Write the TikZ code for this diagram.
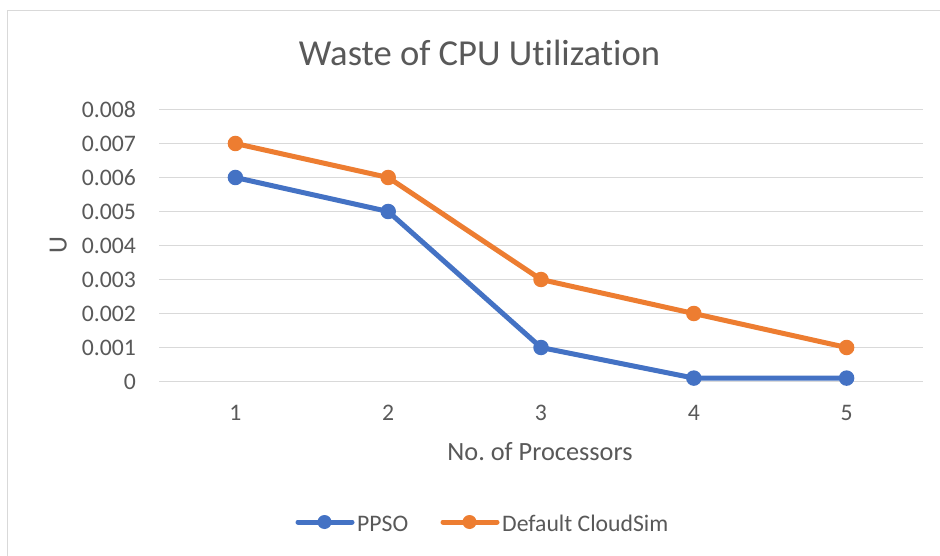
\documentclass[tikz,border=0pt]{standalone}
\usepackage{fontspec}
\setmainfont{Carlito}[RawFeature={-liga;-clig;-dlig}]
\frenchspacing
\definecolor{txt}{HTML}{595959}
\definecolor{grid}{HTML}{D9D9D9}
\definecolor{sblue}{HTML}{4472C4}
\definecolor{sorange}{HTML}{ED7D31}
\tikzset{
  gridline/.style={draw=grid, line width=1.6pt},
  frameline/.style={draw=grid, line width=1.6pt},
  ticklbl/.style={text=txt, inner sep=0pt, font=\fontsize{23.7}{28}\selectfont},
  series/.style={line width=5pt, line join=round, line cap=round},
  dotmark/.style={circle, inner sep=0pt, minimum size=15.5pt},
}
\begin{document}
\begin{tikzpicture}[x=1pt,y=-1pt]
\useasboundingbox (0,0) rectangle (940,556);
\fill[white] (0,0) rectangle (940,556);
% chart frame
\draw[frameline] (7.5,560) -- (7.5,10.5) -- (945,10.5);
% title
\node[text=txt, inner sep=0pt, anchor=base, font=\fontsize{36.6}{40}\selectfont] (title) at (479.5,66) {Waste of CPU Ut\kern0pt ilizat\kern0pt ion};
% gridlines and y labels
\foreach \v/\lbl in {0/0,1/0.001,2/0.002,3/0.003,4/0.004,5/0.005,6/0.006,7/0.007,8/0.008}{
  \pgfmathsetmacro{\yy}{381.5-34*\v}
  \coordinate (gl\v) at (159,\yy);
  \coordinate (gr\v) at (923,\yy);
  \draw[gridline] (gl\v) -- (gr\v);
  \node[ticklbl, anchor=base east] (yl\v) at (136,\yy+7.7) {\lbl};
}
% x labels
\foreach \i in {1,...,5}{
  \pgfmathsetmacro{\xx}{235.4+152.8*(\i-1)}
  \node[ticklbl, anchor=base] (xl\i) at (\xx,420) {\i};
}
% axis titles
\node[text=txt, inner sep=0pt, anchor=base, font=\fontsize{26.3}{30}\selectfont] (xtitle) at (540,460) {No.\ of Processors};
\node[text=txt, inner sep=0pt, anchor=base, rotate=90, font=\fontsize{26.3}{30}\selectfont] (ytitle) at (66.5,245) {U};
% data points
\foreach \i/\a/\b in {1/6/7,2/5/6,3/1/3,4/0.1/2,5/0.1/1}{
  \pgfmathsetmacro{\xx}{235.4+152.8*(\i-1)}
  \coordinate (p\i) at (\xx,381.5-34*\a);
  \coordinate (d\i) at (\xx,381.5-34*\b);
}
\draw[series, sorange] (d1) -- (d2) -- (d3) -- (d4) -- (d5);
\draw[series, sblue] (p1) -- (p2) -- (p3) -- (p4) -- (p5);
\foreach \i in {1,...,5}{
  \node[dotmark, fill=sorange] (md\i) at (d\i) {};
  \node[dotmark, fill=sblue] (mp\i) at (p\i) {};
}
% legend
\coordinate (lb1) at (298,522);
\coordinate (lb2) at (352,522);
\draw[series, sblue] (lb1) -- (lb2);
\node[dotmark, fill=sblue, minimum size=14pt] (lbm) at (324.5,522) {};
\node[ticklbl, anchor=base west] (lbt) at (357,531) {PPSO};
\coordinate (lo1) at (443,522);
\coordinate (lo2) at (497,522);
\draw[series, sorange] (lo1) -- (lo2);
\node[dotmark, fill=sorange, minimum size=14pt] (lom) at (469.5,522) {};
\node[ticklbl, anchor=base west] (lot) at (502,531) {Default CloudSim};
\end{tikzpicture}
\end{document}
